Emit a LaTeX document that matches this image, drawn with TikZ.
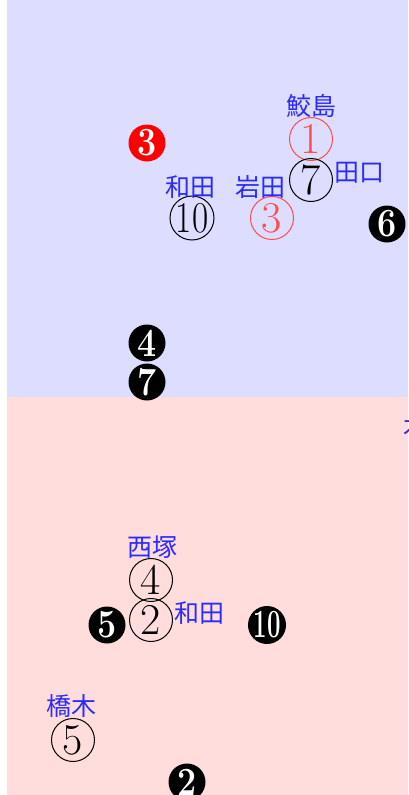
\documentclass[tikz,border=0pt]{standalone}
\usepackage{fontspec}
\usepackage{xcolor}
\usepackage{tikz}
\usetikzlibrary{positioning}
\newfontfamily\jpfont{Noto Sans CJK JP}
\definecolor{bluebg}{HTML}{DDDDFF}
\definecolor{pinkbg}{HTML}{FFDDDD}
\definecolor{namecol}{HTML}{2B2BFF}
\definecolor{redring}{HTML}{FF4D4D}
\definecolor{redfill}{HTML}{FF0000}
\tikzset{
  namelabel/.style={font=\jpfont\fontsize{25}{28}\selectfont,text=namecol,inner sep=1pt},
  ring/.style={circle,draw=black,line width=1pt,minimum size=43pt,inner sep=0pt,font=\fontsize{44}{44}\selectfont},
  redring/.style={ring,draw=redring,text=redring},
  dot/.style={circle,fill=black,text=white,minimum size=37pt,inner sep=0pt,font=\fontsize{40}{40}\selectfont\bfseries},
  reddot/.style={dot,fill=redfill}
}
\begin{document}
\begin{tikzpicture}[x=1pt,y=-1pt]
  \useasboundingbox (0,0) rectangle (408,795);
  \fill[bluebg] (7,0) rectangle (408,397);
  \fill[pinkbg] (7,397) rectangle (408,795);

  % upper field
  \node[redring] (r1) at (311,139) {1};
  \node[namelabel] (samejima) at (311,106) {鮫島};
  \node[ring] (r7) at (311,180) {7};
  \node[namelabel] (taguchi) at (359,173) {田口};
  \node[ring] (r10) at (192,218) {\scalebox{0.8}[1]{10}};
  \node[namelabel] (wada1) at (190,187) {和田};
  \node[redring] (r3) at (272,218) {3};
  \node[namelabel] (iwata) at (260,187) {岩田};
  \node[reddot] (d3) at (147,143) {\scalebox{0.85}[1]{3}};
  \node[dot] (d6) at (387,224) {\scalebox{0.85}[1]{6}};
  \node[dot] (d4) at (147,343) {\scalebox{0.85}[1]{4}};
  \node[dot] (d7) at (147,382) {\scalebox{0.85}[1]{7}};

  % lower field
  \node[ring] (r4) at (151,580) {4};
  \node[namelabel] (nishizuka) at (152,547) {西塚};
  \node[ring] (r2) at (151,620) {2};
  \node[namelabel] (wada2) at (199,613) {和田};
  \node[dot] (d5) at (107,625) {\scalebox{0.85}[1]{5}};
  \node[dot] (d10) at (267,625) {\scalebox{0.6}[1]{10}};
  \node[ring] (r5) at (73,740) {5};
  \node[namelabel] (hashiki) at (71,706) {橋木};
  \node[dot] (d2) at (187,782) {\scalebox{0.85}[1]{2}};

  \begin{scope}
    \clip (0,0) rectangle (408,795);
    \node[namelabel,anchor=west] (edge) at (402,426) {木};
  \end{scope}
\end{tikzpicture}
\end{document}
